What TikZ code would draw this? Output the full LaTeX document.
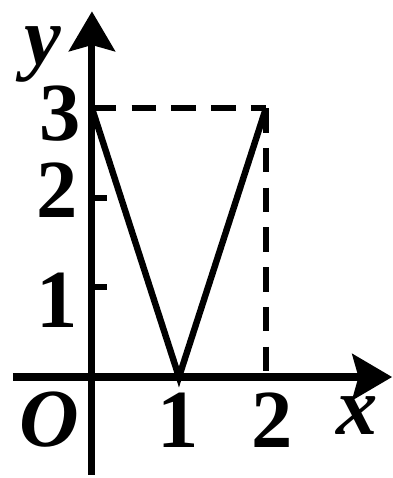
\documentclass[tikz,border=0pt]{standalone}
\usepackage{fontspec}
\setmainfont{Liberation Serif}
\usetikzlibrary{arrows.meta}

\tikzset{
  axis/.style={line width=2.3pt, -{Stealth[length=13pt, width=15pt, inset=2pt]}},
  graphline/.style={line width=2.1pt, line join=miter},
  guide/.style={line width=1.8pt, dash pattern=on 8pt off 5pt},
  lbl/.style={font=\fontsize{27}{27}\selectfont\bfseries, inner sep=0pt}
}

\begin{document}
\begin{tikzpicture}[x=1cm, y=1.03cm]

  % Picture frame
  \useasboundingbox (-1.057,-1.127) rectangle (3.46,4.207);

  % Points of the graph
  \coordinate (O) at (0,0);
  \coordinate (A) at (0,3);
  \coordinate (B) at (1,0);
  \coordinate (C) at (2,3);
  \coordinate (C0) at (2,0);

  % Axes
  \draw[axis] (-0.91,0) -- (3.45,0);
  \draw[axis] (0,-1.09) -- (0,4.08);

  % Ticks on the y-axis
  \draw[line width=2pt] (0,1) -- (0.17,1);
  \draw[line width=2pt] (0,2) -- (0.17,2);

  % Dashed guides to the point (2,3)
  \draw[guide] (A) -- (C);
  \draw[guide] (C) -- (C0);

  % The V-shaped graph
  \draw[graphline] (A) -- (B) -- (C);

  % Labels
  \node[lbl] (ylab) at (-0.56,3.60) {\itshape y};
  \node[lbl] (y3) at (-0.37,2.94) {3};
  \node[lbl] (y2) at (-0.40,2.08) {2};
  \node[lbl] (y1) at (-0.40,0.86) {1};
  \node[lbl] (olab) at (-0.49,-0.48) {\itshape O};
  \node[lbl] (x1) at (0.99,-0.48) {1};
  \node[lbl] (x2) at (2.07,-0.48) {2};
  \node[lbl] (xlab) at (3.05,-0.43) {\itshape x};

\end{tikzpicture}
\end{document}
